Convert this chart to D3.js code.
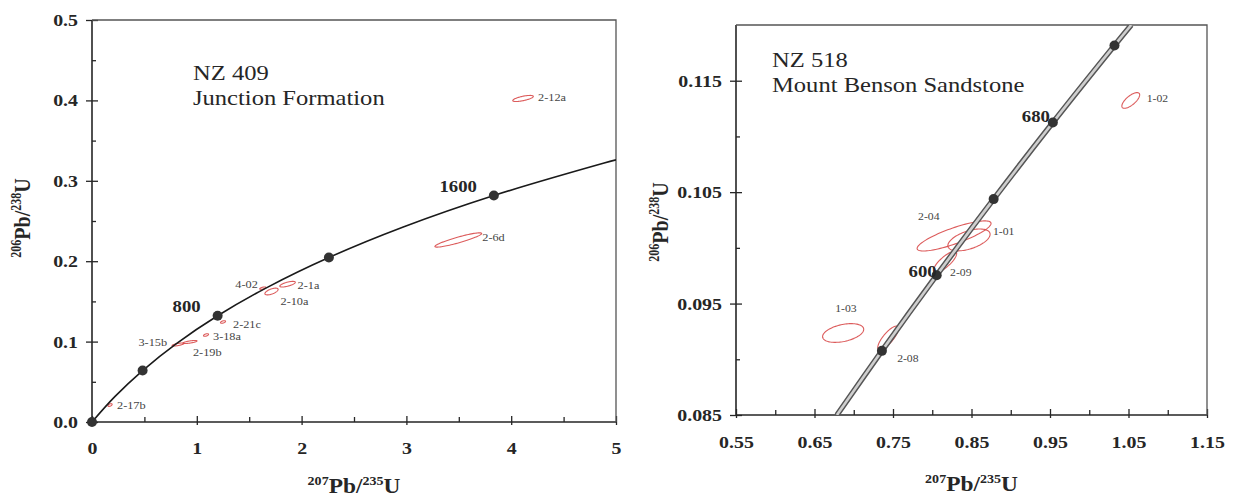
<!DOCTYPE html>
<html>
<head>
<meta charset="utf-8">
<script src="https://cdn.jsdelivr.net/npm/d3@7"></script>
<style>
  body { margin: 0; background: #fff; }
  svg text { font-family: 'Liberation Serif', 'Times New Roman', serif; }
</style>
</head>
<body>
<svg id="chart" width="1235" height="504"></svg>
<script>
// ---------------- NZ 409 · Junction Formation ----------------
const nz409XTicks = [0, 1, 2, 3, 4, 5];
const nz409XTickLabels = ["0", "1", "2", "3", "4", "5"];
const nz409XMinor = [0.5, 1.5, 2.5, 3.5, 4.5];
const nz409YTicks = [0, 0.1, 0.2, 0.3, 0.4, 0.5];
const nz409YTickLabels = ["0.0", "0.1", "0.2", "0.3", "0.4", "0.5"];
const nz409YMinor = [0.05, 0.15, 0.25, 0.35, 0.45];

// concordia trace (207Pb/235U, 206Pb/238U)
const nz409ConcordiaX = [0, 0.21771, 0.48282, 0.80564, 1.19875, 1.67744, 2.26034, 2.97015, 3.83450, 4.88702, 5.0];
const nz409ConcordiaY = [0, 0.031511, 0.064015, 0.097543, 0.132128, 0.167802, 0.204601, 0.242559, 0.281714, 0.322102, 0.32608];

// age marks on the concordia (Ma)
const nz409MarkAges = [0, 400, 800, 1200, 1600];
const nz409MarkX = [0, 0.48282, 1.19875, 2.26034, 3.83450];
const nz409MarkY = [0, 0.064015, 0.132128, 0.204601, 0.281714];
const nz409LabelledAges = [800, 1600];

// zircon spots: ratios with error half-widths and error correlation
const nz409Spots = ["2-12a", "2-6d", "4-02", "2-1a", "2-10a", "2-21c", "3-18a", "3-15b", "2-19b", "2-17b"];
const nz409SpotX   = [4.113, 3.495, 1.63, 1.866, 1.713, 1.25, 1.088, 0.821, 0.935, 0.172];
const nz409SpotSX  = [0.098, 0.223, 0.03, 0.074, 0.063, 0.024, 0.024, 0.057, 0.067, 0.02];
const nz409SpotY   = [0.4024, 0.2264, 0.1665, 0.1714, 0.1623, 0.1244, 0.1082, 0.0964, 0.0995, 0.0211];
const nz409SpotSY  = [0.0038, 0.0089, 0.0015, 0.0035, 0.0042, 0.0016, 0.0016, 0.0019, 0.0019, 0.0017];
const nz409SpotRho = [0.68, 0.91, 0.6, 0.68, 0.62, 0.5, 0.5, 0.7, 0.7, 0.5];

// ---------------- NZ 518 · Mount Benson Sandstone ----------------
const nz518XTicks = [0.55, 0.65, 0.75, 0.85, 0.95, 1.05, 1.15];
const nz518XTickLabels = ["0.55", "0.65", "0.75", "0.85", "0.95", "1.05", "1.15"];
const nz518XMinor = [0.60, 0.70, 0.80, 0.90, 1.00, 1.10];
const nz518YTicks = [0.085, 0.095, 0.105, 0.115];
const nz518YTickLabels = ["0.085", "0.095", "0.105", "0.115"];
const nz518YMinor = [0.090, 0.100, 0.110];

const nz518ConcordiaX = [0.67856, 0.73588, 0.80564, 0.87818, 0.95365, 1.03214, 1.05347];
const nz518ConcordiaY = [0.085, 0.090755, 0.097543, 0.104375, 0.11125, 0.118166, 0.12];

const nz518MarkAges = [560, 600, 640, 680, 720];
const nz518MarkX = [0.73588, 0.80564, 0.87818, 0.95365, 1.03214];
const nz518MarkY = [0.090755, 0.097543, 0.104375, 0.11125, 0.118166];
const nz518LabelledAges = [600, 680];

const nz518Spots = ["1-02", "2-04", "1-01", "2-09", "1-03", "2-08"];
const nz518SpotX   = [1.0529, 0.8278, 0.8468, 0.8163, 0.6865, 0.7438];
const nz518SpotSX  = [0.01134, 0.0471, 0.0269, 0.0148, 0.0262, 0.0132];
const nz518SpotY   = [0.11323, 0.10107, 0.10071, 0.09873, 0.09236, 0.09191];
const nz518SpotSY  = [0.000706, 0.00135, 0.00098, 0.00096, 0.00084, 0.00107];
const nz518SpotRho = [0.71, 0.83, 0.52, 0.80, 0.39, 0.80];

// ---------------- drawing ----------------
const svg = d3.select("#chart");
const INK = "#262626";
const RED = "#d84a4a";
const STRETCH = 1.17;   // type is set slightly wide

function wideText(g, x, y, str, size, opts = {}) {
  return g.append("text")
    .attr("transform", `translate(${x},${y}) scale(${STRETCH},1)`)
    .attr("font-size", size)
    .attr("font-weight", opts.bold ? "bold" : "normal")
    .attr("text-anchor", opts.anchor || "start")
    .attr("dy", opts.dy || "0")
    .attr("fill", opts.fill || INK)
    .text(str);
}

function ratioTitle(g, num, den, size) {
  const t = g.append("text").attr("font-weight", "bold").attr("font-size", size)
    .attr("fill", INK).attr("text-anchor", "middle");
  const sup = Math.round(size * 0.62);
  t.append("tspan").attr("font-size", sup).attr("dy", -size * 0.4).text(num);
  t.append("tspan").attr("dy", size * 0.4).text("Pb/");
  t.append("tspan").attr("font-size", sup).attr("dy", -size * 0.4).text(den);
  t.append("tspan").attr("dy", size * 0.4).text("U");
  return t;
}

function ellipsePoints(cx, sx, cy, sy, rho) {
  const k = Math.sqrt(1 - rho * rho);
  return d3.range(0, 361, 4).map(a => {
    const t = a * Math.PI / 180;
    return [cx + sx * Math.cos(t), cy + sy * (rho * Math.cos(t) + k * Math.sin(t))];
  });
}

function stretchTickText(sel) {
  sel.selectAll("text").each(function () {
    const el = d3.select(this);
    const x = +el.attr("x") || 0;
    el.attr("x", x / STRETCH).attr("transform", `scale(${STRETCH},1)`);
  });
}

function panel(cfg) {
  const r = cfg.rect;
  const x = d3.scaleLinear().domain(cfg.xDomain).range([r.x0, r.x1]);
  const y = d3.scaleLinear().domain(cfg.yDomain).range([r.y1, r.y0]);
  const g = svg.append("g");
  const clipId = "clip-" + cfg.id;
  svg.append("clipPath").attr("id", clipId).append("rect")
    .attr("x", r.x0).attr("y", r.y0).attr("width", r.x1 - r.x0).attr("height", r.y1 - r.y0);

  const styleAxis = a => {
    a.select(".domain").remove();
    a.selectAll("line").attr("stroke", INK).attr("stroke-width", 1.3);
    a.selectAll("text").attr("font-family", "'Liberation Serif','Times New Roman',serif")
      .attr("font-weight", "bold").attr("font-size", 17).attr("fill", INK);
  };

  // y axis: labelled ticks outward, all ticks inward
  g.append("g").attr("transform", `translate(${r.x0},0)`)
    .call(d3.axisLeft(y).tickValues(cfg.yTicks).tickSize(6).tickPadding(8)
      .tickFormat((d, i) => cfg.yLabels[i]))
    .call(styleAxis).call(stretchTickText);
  g.append("g").attr("transform", `translate(${r.x0},0)`)
    .call(d3.axisRight(y).tickValues(cfg.yTicks).tickSize(6).tickFormat("")).call(styleAxis);
  g.append("g").attr("transform", `translate(${r.x0},0)`)
    .call(d3.axisRight(y).tickValues(cfg.yMinor).tickSize(4).tickFormat("")).call(styleAxis);

  // x axis
  g.append("g").attr("transform", `translate(0,${r.y1})`)
    .call(d3.axisBottom(x).tickValues(cfg.xTicks).tickSize(cfg.xOut).tickPadding(cfg.xPad)
      .tickFormat((d, i) => cfg.xLabels[i]))
    .call(styleAxis).call(stretchTickText);
  g.append("g").attr("transform", `translate(0,${r.y1})`)
    .call(d3.axisTop(x).tickValues(cfg.xTicks).tickSize(6).tickFormat("")).call(styleAxis);
  g.append("g").attr("transform", `translate(0,${r.y1})`)
    .call(d3.axisTop(x).tickValues(cfg.xMinor).tickSize(5).tickFormat("")).call(styleAxis);

  // frame
  g.append("path")
    .attr("d", `M${r.x0},${r.y0}V${r.y1}H${r.x1}`)
    .attr("fill", "none").attr("stroke", INK).attr("stroke-width", 1.6);
  g.append("path")
    .attr("d", `M${r.x0},${r.y0}H${r.x1}V${r.y1}`)
    .attr("fill", "none").attr("stroke", "#555").attr("stroke-width", 1.3);

  const plot = g.append("g").attr("clip-path", `url(#${clipId})`);

  // error ellipses
  const ell = d3.line().x(p => x(p[0])).y(p => y(p[1]));
  cfg.spots.forEach((name, i) => {
    const pts = ellipsePoints(cfg.sx[i], cfg.ssx[i], cfg.sy[i], cfg.ssy[i], cfg.srho[i]);
    plot.append("path").attr("d", ell(pts) + "Z")
      .attr("fill", "none").attr("stroke", RED).attr("stroke-width", 1.1).attr("opacity", 0.9);
  });

  // concordia
  const cpts = cfg.cx.map((v, i) => [v, cfg.cy[i]]);
  const curve = d3.line().x(p => x(p[0])).y(p => y(p[1])).curve(d3.curveCatmullRom.alpha(0.5));
  if (cfg.band) {
    plot.append("path").attr("d", curve(cpts)).attr("fill", "none")
      .attr("stroke", "#555").attr("stroke-width", 5.5);
    plot.append("path").attr("d", curve(cpts)).attr("fill", "none")
      .attr("stroke", "#cfcfcf").attr("stroke-width", 2.6);
  } else {
    plot.append("path").attr("d", curve(cpts)).attr("fill", "none")
      .attr("stroke", "#1a1a1a").attr("stroke-width", 1.6);
  }

  // age marks
  cfg.ages.forEach((a, i) => {
    g.append("circle").attr("cx", x(cfg.mx[i])).attr("cy", y(cfg.my[i])).attr("r", 5)
      .attr("fill", "#333");
  });
  cfg.ages.forEach((a, i) => {
    if (!cfg.labelled.includes(a)) return;
    const off = cfg.ageOffset[a];
    wideText(g, x(cfg.mx[i]) + off[0], y(cfg.my[i]) + off[1], String(a), 16,
      { bold: true, anchor: "end", dy: "0.35em" });
  });

  // spot labels
  cfg.spots.forEach((name, i) => {
    const off = cfg.spotOffset[name];
    wideText(g, x(cfg.sx[i]) + off[0], y(cfg.sy[i]) + off[1], name, cfg.spotFont,
      { anchor: off[2], dy: "0.35em", fill: "#444" });
  });

  // sample title
  wideText(g, r.x0 + cfg.title.dx, cfg.title.y1, cfg.title.line1, 21);
  wideText(g, r.x0 + cfg.title.dx, cfg.title.y2, cfg.title.line2, 21);

  // axis titles
  const xt = g.append("g").attr("transform", `translate(${(r.x0 + r.x1) / 2},${cfg.xTitleY}) scale(${STRETCH},1)`);
  ratioTitle(xt, "207", "235", 20);
  const yt = g.append("g").attr("transform", `translate(${cfg.yTitleX},${cfg.yTitleY}) scale(${STRETCH},1) rotate(-90)`);
  ratioTitle(yt, "206", "238", 20);
}

panel({
  id: "nz409",
  rect: { x0: 92, x1: 616, y0: 20, y1: 422 },
  xDomain: [0, 5], yDomain: [0, 0.5],
  xTicks: nz409XTicks, xLabels: nz409XTickLabels, xMinor: nz409XMinor,
  yTicks: nz409YTicks, yLabels: nz409YTickLabels, yMinor: nz409YMinor,
  xOut: 3, xPad: 17,
  cx: nz409ConcordiaX, cy: nz409ConcordiaY, band: false,
  ages: nz409MarkAges, mx: nz409MarkX, my: nz409MarkY, labelled: nz409LabelledAges,
  ageOffset: { 800: [-17, -9], 1600: [-17, -9.5] },
  spots: nz409Spots, sx: nz409SpotX, ssx: nz409SpotSX, sy: nz409SpotY, ssy: nz409SpotSY, srho: nz409SpotRho,
  spotFont: 10.5,
  spotOffset: {
    "2-12a": [15, -1, "start"], "2-6d": [24, -3, "start"], "4-02": [-5, -4, "end"],
    "2-1a": [10, 1, "start"], "2-10a": [9, 10, "start"], "2-21c": [10, 2, "start"],
    "3-18a": [7, 1, "start"], "3-15b": [-11, -2, "end"], "2-19b": [3, 10, "start"],
    "2-17b": [7, 0, "start"]
  },
  title: { dx: 101, y1: 80, y2: 105, line1: "NZ 409", line2: "Junction Formation" },
  xTitleY: 493, yTitleX: 30, yTitleY: 218
});

panel({
  id: "nz518",
  rect: { x0: 736, x1: 1207, y0: 25, y1: 415 },
  xDomain: [0.55, 1.15], yDomain: [0.085, 0.120],
  xTicks: nz518XTicks, xLabels: nz518XTickLabels, xMinor: nz518XMinor,
  yTicks: nz518YTicks, yLabels: nz518YTickLabels, yMinor: nz518YMinor,
  xOut: 3, xPad: 18,
  cx: nz518ConcordiaX, cy: nz518ConcordiaY, band: true,
  ages: nz518MarkAges, mx: nz518MarkX, my: nz518MarkY, labelled: nz518LabelledAges,
  ageOffset: { 600: [0, -4], 680: [-3, -6] },
  spots: nz518Spots, sx: nz518SpotX, ssx: nz518SpotSX, sy: nz518SpotY, ssy: nz518SpotSY, srho: nz518SpotRho,
  spotFont: 10,
  spotOffset: {
    "1-02": [16, -2, "start"], "2-04": [-36, -19, "start"], "1-01": [24, -8, "start"],
    "2-09": [5, 10, "start"], "1-03": [-8, -24, "start"], "2-08": [9, 20, "start"]
  },
  title: { dx: 36, y1: 67, y2: 92, line1: "NZ 518", line2: "Mount Benson Sandstone" },
  xTitleY: 491, yTitleX: 668, yTitleY: 222
});
</script>
</body>
</html>
